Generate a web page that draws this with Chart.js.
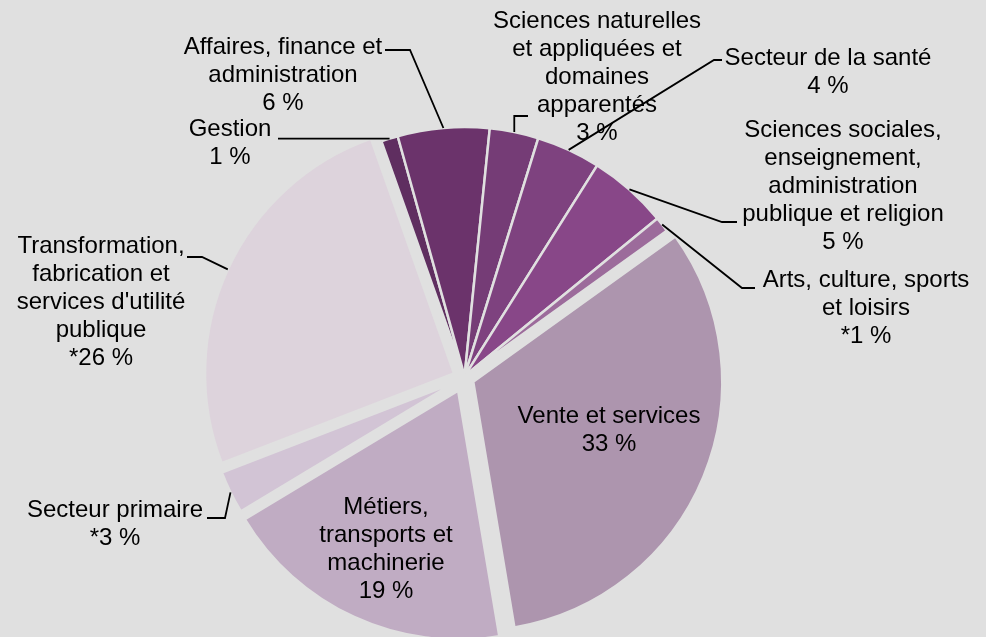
<!DOCTYPE html>
<html><head><meta charset="utf-8">
<script src="https://cdn.jsdelivr.net/npm/chart.js@4/dist/chart.umd.min.js"></script>
<style>html,body{margin:0;padding:0;background:#e0e0e0;}canvas{display:block;}</style>
</head><body>
<canvas id="c" width="986" height="637"></canvas>
<script>
// ---- data ----
const categories = [
  "Gestion",
  "Affaires, finance et\nadministration",
  "Sciences naturelles\net appliquées et\ndomaines\napparentés",
  "Secteur de la santé",
  "Sciences sociales,\nenseignement,\nadministration\npublique et religion",
  "Arts, culture, sports\net loisirs",
  "Vente et services",
  "Métiers,\ntransports et\nmachinerie",
  "Secteur primaire",
  "Transformation,\nfabrication et\nservices d'utilité\npublique"
];
const shares = [1.1, 6.0, 3.2, 4.2, 5.2, 1.0, 32.6, 19.2, 2.8, 25.7];
const shareLabels = ["1 %", "6 %", "3 %", "4 %", "5 %", "*1 %", "33 %", "19 %", "*3 %", "*26 %"];

// ---- styles / layout ----
const sliceColors = ["#5f2e60","#6b336b","#753c76","#7e427f","#884788","#9c6b9b","#ad95ae","#c0acc3","#d2c4d5","#ddd3dc"];
const sliceGroup = [0,0,0,0,0,0,1,2,3,4];
const groupExplode = [2, 10, 14, 11, 11];
const BG = "#e0e0e0";
// text centre x, first line centre y, leader path (null coordinate = anchor's)
const labelLayout = [
  {x:230, y:129, path:[[278,null]]},
  {x:283, y:47,  path:[[385,50],[410,50]]},
  {x:597, y:21,  path:[[528,116],[null,116]]},
  {x:828, y:58,  path:[[722,60],[714,60]]},
  {x:843, y:130, path:[[737,222],[722,222]]},
  {x:866, y:280, path:[[755,288],[742,288]]},
  {x:609, y:416, path:null},
  {x:386, y:507, path:null},
  {x:115, y:510, path:[[207,518],[225,518]]},
  {x:101, y:246, path:[[187,257],[202,257]]}
];
const LINE_H = 28;

const explodePlugin = {
  id: 'explode',
  afterDatasetsUpdate(chart) {
    const arcs = chart.getDatasetMeta(0).data;
    const groups = {};
    arcs.forEach((a, i) => {
      const g = sliceGroup[i];
      if (!groups[g]) groups[g] = {s: a.startAngle, e: a.endAngle};
      else groups[g].e = a.endAngle;
    });
    arcs.forEach((a, i) => {
      const g = sliceGroup[i];
      const mid = (groups[g].s + groups[g].e) / 2;
      a.x += Math.cos(mid) * groupExplode[g];
      a.y += Math.sin(mid) * groupExplode[g];
    });
  }
};

const labelPlugin = {
  id: 'pieLabels',
  afterDatasetsDraw(chart) {
    const ctx = chart.ctx;
    const arcs = chart.getDatasetMeta(0).data;
    ctx.save();
    ctx.font = '24px "Liberation Sans", Arial, sans-serif';
    ctx.fillStyle = '#000';
    ctx.textAlign = 'center';
    ctx.textBaseline = 'middle';
    arcs.forEach((a, i) => {
      const L = labelLayout[i];
      const lines = categories[i].split('\n').concat([shareLabels[i]]);
      lines.forEach((t, k) => ctx.fillText(t, L.x, L.y + k * LINE_H));
    });
    ctx.strokeStyle = '#000';
    ctx.lineWidth = 1.8;
    arcs.forEach((a, i) => {
      const L = labelLayout[i];
      if (!L.path) return;
      const mid = (a.startAngle + a.endAngle) / 2;
      const ax = a.x + Math.cos(mid) * a.outerRadius;
      const ay = a.y + Math.sin(mid) * a.outerRadius;
      ctx.beginPath();
      L.path.forEach((p, k) => {
        const px = p[0] === null ? ax : p[0];
        const py = p[1] === null ? ay : p[1];
        if (k === 0) ctx.moveTo(px, py); else ctx.lineTo(px, py);
      });
      ctx.lineTo(ax, ay);
      ctx.stroke();
    });
    ctx.restore();
  }
};

new Chart(document.getElementById('c'), {
  type: 'pie',
  data: {
    labels: categories,
    datasets: [{
      data: shares,
      backgroundColor: sliceColors,
      borderColor: BG,
      borderWidth: 2.5,
      radius: 249,
      clip: false
    }]
  },
  options: {
    responsive: false,
    devicePixelRatio: 1,
    animation: false,
    events: [],
    rotation: -19.5,
    layout: {padding: {left: 0, right: 58, top: 119, bottom: 0}},
    plugins: {legend: {display: false}, tooltip: {enabled: false}}
  },
  plugins: [explodePlugin, labelPlugin, {
    id: 'bg',
    beforeDraw(chart) {
      const c = chart.ctx; c.save(); c.fillStyle = BG; c.fillRect(0, 0, chart.width, chart.height); c.restore();
    }
  }]
});
</script>
</body></html>
